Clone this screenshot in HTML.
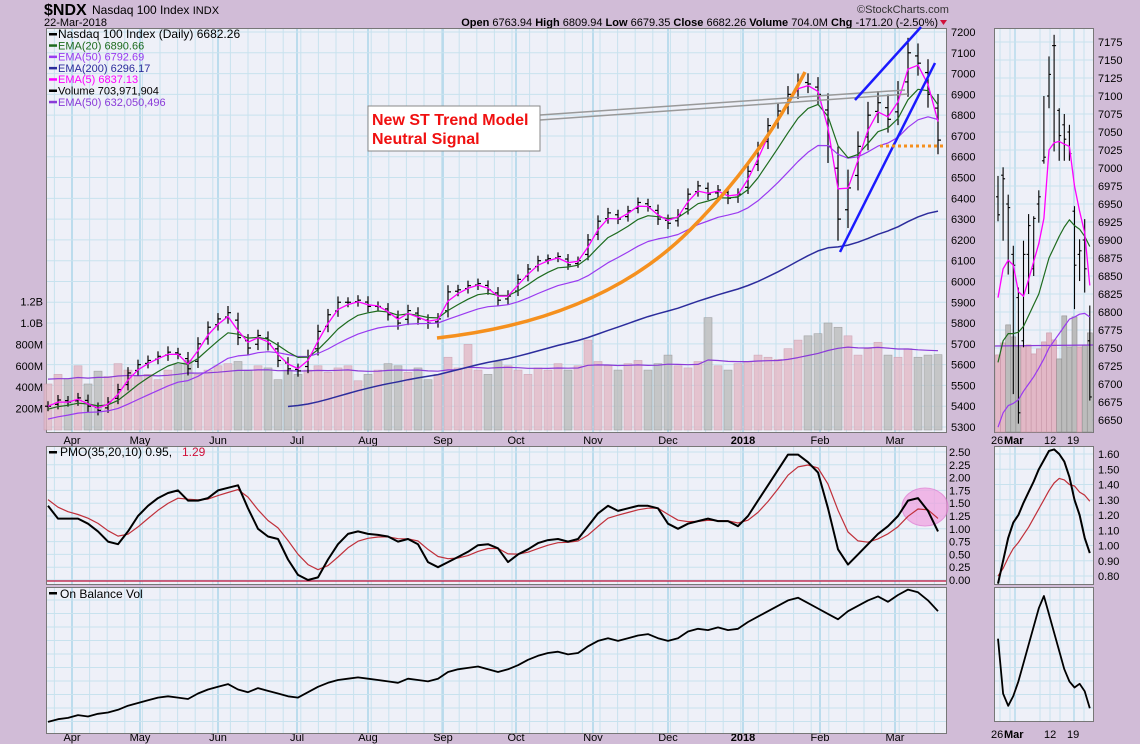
<!DOCTYPE html>
<html><head><meta charset="utf-8"><style>
body{margin:0;background:#d1bcd7;}
svg{display:block;font-family:"Liberation Sans",sans-serif;}
</style></head><body>
<svg id="c" width="1140" height="744" viewBox="0 0 1140 744" xmlns="http://www.w3.org/2000/svg">
<rect x="0" y="0" width="1140" height="744" fill="#d1bcd7"/>
<text x="44" y="15" font-size="16" font-weight="bold" fill="#000">$NDX</text>
<text x="92" y="14" font-size="12" fill="#000">Nasdaq 100 Index <tspan font-size="11">INDX</tspan></text>
<text x="44" y="26" font-size="11" fill="#000">22-Mar-2018</text>
<text x="857" y="13" font-size="11" fill="#333">©StockCharts.com</text>
<text x="938" y="26" font-size="11" text-anchor="end" fill="#000"><tspan font-weight="bold">Open</tspan> 6763.94 <tspan font-weight="bold">High</tspan> 6809.94 <tspan font-weight="bold">Low</tspan> 6679.35 <tspan font-weight="bold">Close</tspan> 6682.26 <tspan font-weight="bold">Volume</tspan> 704.0M <tspan font-weight="bold">Chg</tspan> -171.20 (-2.50%)</text>
<path d="M940 20 L947 20 L943.5 25 Z" fill="#d0103a"/>
<g id="g"></g>
</svg>
<script>
// ===== main price data (one point ≈ 2.5 trading days) =====
const closes=[5400,5430,5420,5440,5400,5380,5420,5480,5560,5600,5620,5640,5660,5650,5580,5700,5780,5820,5850,5730,5680,5740,5700,5620,5580,5570,5640,5760,5840,5900,5900,5910,5880,5880,5840,5800,5860,5820,5800,5820,5950,5960,5980,5990,5960,5910,5930,6010,6060,6100,6110,6120,6080,6100,6200,6290,6330,6300,6340,6380,6360,6300,6280,6320,6420,6460,6420,6440,6400,6420,6530,6640,6750,6820,6900,6960,6950,6900,6650,6300,6450,6650,6800,6860,6780,6900,7100,7050,6900,6680];
const ranges=[60,60,55,60,70,60,60,70,70,60,60,60,70,60,80,80,70,70,80,90,80,70,80,80,70,70,80,80,70,70,60,60,70,60,70,80,70,70,70,70,80,60,60,60,60,70,70,60,60,60,50,50,60,50,70,70,60,60,60,60,60,70,70,70,70,60,70,60,70,70,80,80,90,90,100,100,110,120,200,260,220,180,160,140,160,160,180,150,160,170];
const volumes=[430,520,480,600,430,550,500,620,560,500,520,470,560,610,650,520,560,600,620,640,560,600,580,470,560,520,560,600,540,580,600,460,520,560,620,600,540,580,470,520,680,580,800,560,520,640,600,560,520,580,560,620,560,600,840,640,600,560,620,650,560,620,700,600,580,640,1050,600,560,620,640,700,680,660,760,840,880,900,1000,960,880,700,760,820,700,680,760,680,700,704];
const pmo=[1.45,1.2,1.2,1.2,1.1,0.95,0.75,0.7,0.95,1.25,1.45,1.6,1.7,1.75,1.55,1.55,1.6,1.75,1.8,1.85,1.4,1.0,0.85,0.8,0.4,0.1,0.0,0.05,0.4,0.7,0.9,0.95,0.9,0.88,0.85,0.75,0.8,0.7,0.35,0.25,0.35,0.45,0.55,0.68,0.7,0.62,0.35,0.5,0.6,0.72,0.78,0.8,0.75,0.8,1.05,1.3,1.45,1.35,1.4,1.45,1.45,1.4,1.1,1.0,1.1,1.15,1.2,1.15,1.15,1.05,1.25,1.55,1.85,2.15,2.45,2.45,2.3,2.1,1.4,0.6,0.3,0.5,0.7,0.9,1.05,1.25,1.55,1.6,1.35,0.95];
const obv=[6,8,9,11,10,12,13,15,18,20,22,24,25,24,23,27,30,32,34,30,28,31,29,27,25,24,28,32,35,37,38,39,38,37,36,35,38,37,36,38,43,45,46,47,45,43,45,48,52,55,57,58,56,57,62,66,68,66,68,70,71,68,66,68,73,75,74,76,74,75,80,84,88,92,96,98,94,90,86,82,88,92,96,99,95,100,104,102,96,88];
const priceTicks=[7200,7100,7000,6900,6800,6700,6600,6500,6400,6300,6200,6100,6000,5900,5800,5700,5600,5500,5400,5300];
const volTicks=[1200,1000,800,600,400,200];
const volTickLabels=["1.2B","1.0B","800M","600M","400M","200M"];
const pmoTicks=[2.5,2.25,2.0,1.75,1.5,1.25,1.0,0.75,0.5,0.25,0.0];
const monthLabels=["Apr","May","Jun","Jul","Aug","Sep","Oct","Nov","Dec","2018","Feb","Mar"];
const monthX=[72,140,218,297,368,443,516,593,668,743,820,895];
// ===== mini (zoomed) panel data =====
const mHigh=[6989,7001,6963,6892,6834,6899,6936,6933,6969,7100,7155,7185,7083,7075,7060,6947,6901,6929,6809];
const mLow=[6926,6899,6852,6686,6645,6751,6825,6850,6924,7006,7083,7023,7010,7010,7010,6804,6843,6827,6677];
const mOpen=[6960,6990,6950,6880,6820,6760,6880,6860,6950,7010,7100,7170,7080,7060,7050,6940,6880,6900,6760];
const mClose=[6935,6985,6945,6865,6660,6880,6920,6930,6960,7015,7130,7170,7045,7040,7020,6865,6885,6860,6682];
const mEma5=[6820,6860,6872,6865,6828,6822,6845,6870,6895,6930,7025,7035,7037,7033,7030,6975,6940,6910,6837];
const mEma20=[6730,6760,6770,6770,6772,6780,6795,6810,6825,6850,6875,6890,6905,6918,6928,6920,6915,6905,6891];
const mEma50=[6640,6660,6670,6673,6678,6690,6700,6710,6722,6735,6750,6760,6770,6780,6790,6793,6797,6798,6793];
const mVol=[539,623,749,665,595,602,609,546,581,630,693,644,511,812,595,805,595,609,693];
const mPmo=[0.75,0.9,1.05,1.15,1.2,1.28,1.35,1.42,1.5,1.56,1.62,1.63,1.6,1.55,1.45,1.3,1.2,1.05,0.95];
const mSig=[0.8,0.85,0.92,0.98,1.02,1.07,1.12,1.18,1.24,1.3,1.36,1.41,1.44,1.43,1.4,1.39,1.35,1.33,1.29];
const mObv=[65,20,10,18,30,45,60,75,90,100,85,70,55,40,30,25,28,22,8];
const mPriceTicks=[7175,7150,7125,7100,7075,7050,7025,7000,6975,6950,6925,6900,6875,6850,6825,6800,6775,6750,6725,6700,6675,6650];
const mPmoTicks=[1.6,1.5,1.4,1.3,1.2,1.1,1.0,0.9,0.8];

const NS="http://www.w3.org/2000/svg";
const G=document.getElementById('g');
function mk(tag,attrs,parent){const e=document.createElementNS(NS,tag);for(const k in attrs)e.setAttribute(k,attrs[k]);(parent||G).appendChild(e);return e;}
function txt(x,y,s,attrs){const e=mk('text',Object.assign({x:x,y:y,'font-size':11,fill:'#000'},attrs||{}));e.textContent=s;return e;}
function ema(arr,n,seed){const a=2/(n+1);let v=seed===undefined?arr[0]:seed;return arr.map(x=>(v=v+a*(x-v)));}

const X=i=>48+i*10;
const PY=p=>32+(7200-p)*0.2079;
const VY=v=>430-v*0.107;
const PMY=v=>580-v*51.2;
const OY=v=>730-v*1.35;
const MX=i=>998+i*5.1;
const MPY=p=>42+(7175-p)*0.72;
const MPMY=v=>454+(1.6-v)*152.5;
const MOY=v=>718-v*1.22;

function panel(x,y,w,h,name){const r=mk('rect',{x:x,y:y,width:w,height:h,fill:'#eef0f8',stroke:'#777','stroke-width':1});}
function vgrid(y1,y2,x1,x2){for(let x=monthX[0]-17.6*4;x<x2;x+=17.6){if(x<x1)continue;mk('line',{x1:x,y1:y1,x2:x,y2:y2,stroke:'#c8e2ee','stroke-width':1});}
 monthX.forEach(x=>mk('line',{x1:x,y1:y1,x2:x,y2:y2,stroke:'#9ccfe6','stroke-width':1.2}));}

panel(46.5,28.5,900,404,'price-panel');
vgrid(29,432,47,946);
priceTicks.forEach(p=>{mk('line',{x1:47,y1:PY(p),x2:946,y2:PY(p),stroke:'#c8e2ee'});
 const t=txt(951,PY(p)+4,String(p));});
volTicks.forEach((v,k)=>{const t=txt(43,VY(v)+4,volTickLabels[k],{'text-anchor':'end'});});
volumes.forEach((v,i)=>{const up=i===0||closes[i]>=closes[i-1];
 const r=mk('rect',{x:X(i)-4,y:VY(v),width:8,height:430-VY(v),fill:up?'#e2b8c6':'#bcbcbc',stroke:up?'#c898a8':'#909090','stroke-width':0.6,opacity:0.8});
 });
const vEma=ema(volumes,20,480);
function poly(arr,fx,fy,color,w,name,start){let d='';arr.forEach((v,i)=>{if(start&&i<start)return;d+=(d?'L':'M')+fx(i).toFixed(1)+' '+fy(v).toFixed(1);});
 const p=mk('path',{d:d,fill:'none',stroke:color,'stroke-width':w,'stroke-linejoin':'round'});return p;}
poly(vEma,X,VY,'#8a3ad8',1.2,'volume-ema50-line');
closes.forEach((c,i)=>{const r=ranges[i];const o=i>0?closes[i-1]+(c-closes[i-1])*0.3:c;
 const hi=Math.max(c,o)+r*0.4,lo=Math.min(c,o)-r*0.4;
 const g=mk('g',{stroke:'#000','stroke-width':1.2});
 mk('line',{x1:X(i),y1:PY(hi),x2:X(i),y2:PY(lo)},g);
 mk('line',{x1:X(i)-3,y1:PY(o),x2:X(i),y2:PY(o)},g);
 mk('line',{x1:X(i),y1:PY(c),x2:X(i)+3,y2:PY(c)},g);});
poly(ema(closes,66,5150),X,PY,'#2c2c9c',1.5,'ema200-line',24);
poly(ema(closes,16,5330),X,PY,'#9a3af0',1.2,'ema50-line');
poly(ema(closes,6,5380),X,PY,'#1e6b1e',1.2,'ema20-line');
poly(ema(closes,2,5400),X,PY,'#ff00ff',1.3,'ema5-line');
let a;
a=mk('path',{d:'M437 338 Q600 320 690 230 Q760 160 805 72',fill:'none',stroke:'#f5901e','stroke-width':3.5});
a=mk('path',{d:'M540 115 L905 90 M540 120 L908 94',fill:'none',stroke:'#999','stroke-width':1.5});
a=mk('line',{x1:855,y1:100,x2:921,y2:27,stroke:'#1a1aff','stroke-width':2.5});
a=mk('line',{x1:840,y1:252,x2:935,y2:63,stroke:'#1a1aff','stroke-width':2.5});
a=mk('line',{x1:880,y1:146,x2:946,y2:146,stroke:'#f5901e','stroke-width':3,'stroke-dasharray':'3 3'});
a=mk('rect',{x:368,y:106,width:172,height:45,fill:'#fff',stroke:'#888'});
a=txt(372,125,'New ST Trend Model',{'font-size':16,'font-weight':'bold',fill:'#f01010'});
a=txt(372,144,'Neutral Signal',{'font-size':16,'font-weight':'bold',fill:'#f01010'});
const leg=[['Nasdaq 100 Index (Daily) 6682.26','#000'],['EMA(20) 6890.66','#1e6b1e'],['EMA(50) 6792.69','#9a3af0'],['EMA(200) 6296.17','#2c2c9c'],['EMA(5) 6837.13','#ff00ff'],['Volume 703,971,904','#000'],['EMA(50) 632,050,496','#8a3ad8']];
leg.forEach((l,k)=>{const y=38+k*11.3;
 const sw=mk('rect',{x:49,y:y-5,width:8,height:2.5,fill:l[1]});
 const t=txt(58,y,l[0],{fill:l[1],'font-size':k===0?12:11});});
monthLabels.forEach((m,k)=>{[444,741].forEach(y=>{const t=txt(monthX[k],y,m,{'text-anchor':'middle','font-weight':m==='2018'?'bold':'normal'});});});

panel(46.5,446.5,900,138,'pmo-panel');
vgrid(447,584,47,946);
pmoTicks.forEach(v=>{mk('line',{x1:47,y1:PMY(v),x2:946,y2:PMY(v),stroke:'#c8e2ee'});
 const t=txt(949,PMY(v)+4,v.toFixed(2));});
a=mk('line',{x1:47,y1:PMY(0)+1,x2:946,y2:PMY(0)+1,stroke:'#c0103a','stroke-width':1.2});
a=mk('ellipse',{cx:925,cy:507,rx:23,ry:19,fill:'#f0a0e0',opacity:0.7,stroke:'#e070d0'});
poly(ema(pmo,4,1.65),X,PMY,'#c0303a',1.2,'pmo-signal-line');
poly(pmo,X,PMY,'#000',2,'pmo-line');
a=mk('rect',{x:49,y:451,width:8,height:2.5,fill:'#000'});
a=txt(60,456,'PMO(35,20,10) 0.95, ',{'font-size':12});
a=txt(182,456,'1.29',{'font-size':12,fill:'#d0103a'});

panel(46.5,587.5,900,146,'obv-panel');
vgrid(588,733,47,946);
for(let y=600;y<733;y+=13.5)mk('line',{x1:47,y1:y,x2:946,y2:y,stroke:'#c8e2ee'});
poly(obv,X,OY,'#000',1.8,'obv-line');
a=mk('rect',{x:49,y:592,width:8,height:2.5,fill:'#000'});
a=txt(60,598,'On Balance Vol',{'font-size':12});

const mGridX=[1000,1010,1015,1040,1050,1060,1074,1084];
function mgrid(y1,y2){mGridX.forEach((x,k)=>mk('line',{x1:x,y1:y1,x2:x,y2:y2,stroke:(k===2||k===6)?'#9ccfe6':'#c8e2ee'}));}
panel(994.5,28.5,99,404,'mini-price-panel');
mgrid(29,432);
mPriceTicks.forEach(p=>{mk('line',{x1:995,y1:MPY(p),x2:1093,y2:MPY(p),stroke:'#c8e2ee'});
 const t=txt(1098,MPY(p)+4,String(p));});
mVol.forEach((v,i)=>{const up=i===0||mClose[i]>=mClose[i-1];const h=v*0.143;
 const r=mk('rect',{x:MX(i)-2.5,y:432-h,width:5,height:h,fill:up?'#e2b8c6':'#bcbcbc',stroke:up?'#c898a8':'#909090','stroke-width':0.6});
 });
a=mk('line',{x1:995,y1:346,x2:1093,y2:345,stroke:'#8a3ad8','stroke-width':1.2});
mHigh.forEach((h,i)=>{const g=mk('g',{stroke:'#000','stroke-width':1.1});
 mk('line',{x1:MX(i),y1:MPY(h),x2:MX(i),y2:MPY(mLow[i])},g);
 mk('line',{x1:MX(i)-2,y1:MPY(mOpen[i]),x2:MX(i),y2:MPY(mOpen[i])},g);
 mk('line',{x1:MX(i),y1:MPY(mClose[i]),x2:MX(i)+2,y2:MPY(mClose[i])},g);});
poly(mEma50,MX,MPY,'#9a3af0',1.2,'mini-ema50-line');
poly(mEma20,MX,MPY,'#1e6b1e',1.2,'mini-ema20-line');
poly(mEma5,MX,MPY,'#ff00ff',1.3,'mini-ema5-line');
panel(994.5,446.5,99,138,'mini-pmo-panel');
mgrid(447,584);
mPmoTicks.forEach(v=>{mk('line',{x1:995,y1:MPMY(v),x2:1093,y2:MPMY(v),stroke:'#c8e2ee'});
 const t=txt(1098,MPMY(v)+4,v.toFixed(2));});
poly(mSig,MX,MPMY,'#c0303a',1.2,'mini-pmo-signal-line');
poly(mPmo,MX,MPMY,'#000',2,'mini-pmo-line');
panel(994.5,587.5,99,134,'mini-obv-panel');
mgrid(588,721);
for(let y=600;y<721;y+=13.5)mk('line',{x1:995,y1:y,x2:1093,y2:y,stroke:'#c8e2ee'});
poly(mObv,MX,MOY,'#000',1.8,'mini-obv-line');
[[437],[731]].forEach(r=>{const y=r[0]+7;
 let t=txt(991,y,'26');
 t=txt(1004,y,'Mar',{'font-weight':'bold'});
 t=txt(1044,y,'12');
 t=txt(1067,y,'19');});
</script>
</body></html>
